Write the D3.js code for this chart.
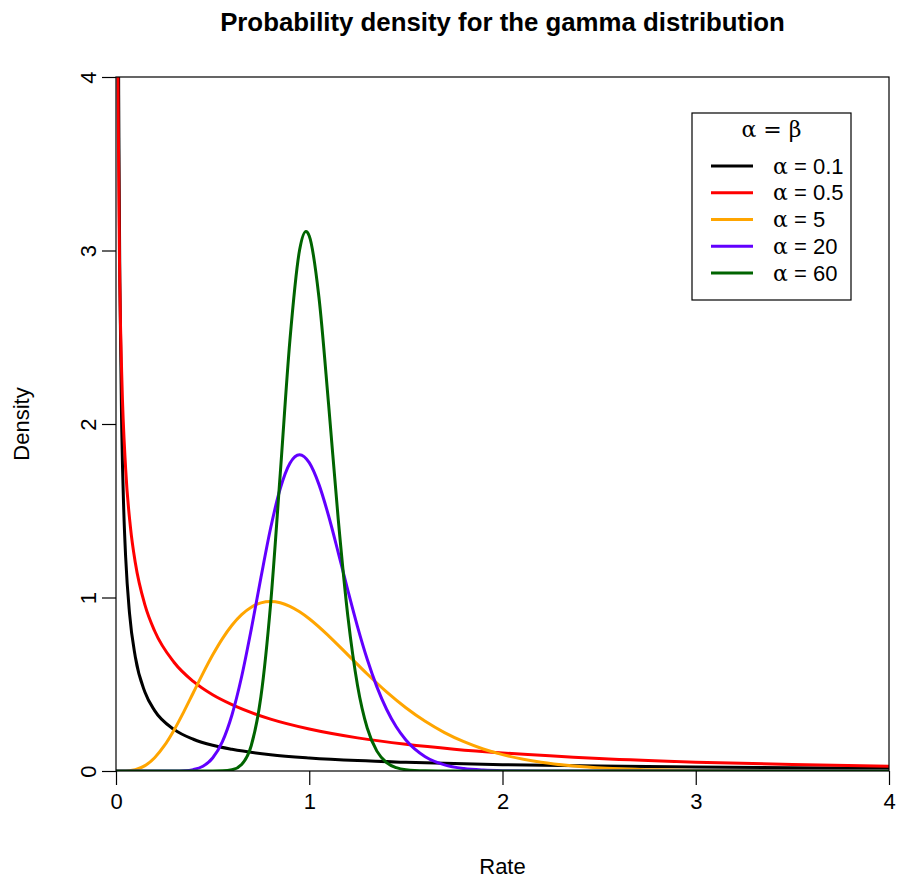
<!DOCTYPE html>
<html>
<head>
<meta charset="utf-8">
<script src="https://cdn.jsdelivr.net/npm/d3@7"></script>
<style>
  html, body { margin: 0; padding: 0; background: #fff; }
  svg { display: block; font-family: "Liberation Sans", Arial, sans-serif; }
</style>
</head>
<body>
<svg id="chart" width="901" height="882"></svg>
<script>
// ---- data ----
const alphas = ["0.1", "0.5", "5", "20", "60"];
const colors = ["#000000", "#FF0000", "#FFA500", "#6200FF", "#006400"];
const xTicks = [0, 1, 2, 3, 4];
const yTicks = [0, 1, 2, 3, 4];

const x01 = [0.005, 0.01, 0.015, 0.02, 0.03, 0.04, 0.05, 0.07, 0.1, 0.15, 0.2, 0.3, 0.4, 0.5, 0.6, 0.8, 1.0, 1.25, 1.5, 2.0, 2.5, 3.0, 3.5, 4.0];
const y01 = [9.83, 5.263, 3.653, 2.817, 1.954, 1.507, 1.232, 0.908, 0.657, 0.454, 0.348, 0.240, 0.183, 0.148, 0.125, 0.094, 0.0755, 0.060, 0.050, 0.0366, 0.0285, 0.023, 0.0191, 0.0161];

const x05 = [0.003, 0.005, 0.01, 0.02, 0.03, 0.05, 0.075, 0.1, 0.15, 0.2, 0.3, 0.4, 0.5, 0.6, 0.8, 1.0, 1.25, 1.5, 1.75, 2.0, 2.5, 3.0, 3.5, 4.0];
const y05 = [7.27, 5.63, 3.97, 2.793, 2.269, 1.740, 1.403, 1.200, 0.956, 0.807, 0.627, 0.516, 0.439, 0.382, 0.299, 0.242, 0.191, 0.154, 0.126, 0.104, 0.072, 0.051, 0.037, 0.027];

const x5 = [0, 0.05, 0.1, 0.15, 0.2, 0.25, 0.3, 0.35, 0.4, 0.45, 0.5, 0.55, 0.6, 0.65, 0.7, 0.75, 0.8, 0.85, 0.9, 0.95, 1.0, 1.1, 1.2, 1.3, 1.4, 1.5, 1.6, 1.7, 1.8, 1.9, 2.0, 2.2, 2.4, 2.6, 2.8, 3.0, 3.5, 4.0];
const y5 = [0, 0.0006, 0.0079, 0.0311, 0.0766, 0.1457, 0.2353, 0.3395, 0.4511, 0.5628, 0.668, 0.7617, 0.8402, 0.9012, 0.9441, 0.9689, 0.9768, 0.9696, 0.949, 0.9176, 0.8773, 0.7791, 0.6693, 0.5591, 0.4561, 0.3646, 0.2863, 0.2213, 0.1687, 0.127, 0.0946, 0.0509, 0.0265, 0.0135, 0.0067, 0.0032, 0.0005, 0.0001];

const x20 = [0, 0.25, 0.3, 0.35, 0.4, 0.45, 0.5, 0.55, 0.6, 0.65, 0.7, 0.75, 0.8, 0.85, 0.9, 0.95, 1.0, 1.05, 1.1, 1.15, 1.2, 1.25, 1.3, 1.35, 1.4, 1.45, 1.5, 1.6, 1.7, 1.8, 1.9, 2.0, 2.2, 2.5, 4.0];
const y20 = [0, 0, 0.0003, 0.0017, 0.008, 0.0274, 0.0747, 0.168, 0.323, 0.543, 0.817, 1.115, 1.399, 1.628, 1.774, 1.823, 1.777, 1.652, 1.471, 1.259, 1.04, 0.831, 0.644, 0.485, 0.356, 0.255, 0.179, 0.0825, 0.0353, 0.0142, 0.0054, 0.0019, 0.0002, 0, 0];

const x60 = [0, 0.5, 0.55, 0.6, 0.65, 0.7, 0.75, 0.8, 0.85, 0.9, 0.95, 0.983, 1.0, 1.05, 1.1, 1.15, 1.2, 1.25, 1.3, 1.35, 1.4, 1.45, 1.5, 1.6, 1.7, 4.0];
const y60 = [0, 0, 0.0008, 0.0067, 0.0372, 0.147, 0.429, 0.962, 1.714, 2.483, 3.003, 3.11, 3.084, 2.732, 2.115, 1.451, 0.89, 0.492, 0.248, 0.1145, 0.0487, 0.0192, 0.0071, 0.001, 0, 0];

const seriesX = [x01, x05, x5, x20, x60];
const seriesY = [y01, y05, y5, y20, y60];

// ---- layout ----
const svg = d3.select("#chart");
const L = 116, R = 889, T = 77, B = 771;
const x = d3.scaleLinear().domain([0, 4]).range([L, R]);
const y = d3.scaleLinear().domain([0, 4]).range([B, T]);

svg.append("defs").append("clipPath").attr("id", "clip")
  .append("rect").attr("x", L).attr("y", T).attr("width", R - L).attr("height", B - T);

const line = d3.line().x(d => x(d[0])).y(d => y(d[1])).curve(d3.curveMonotoneX);

const plot = svg.append("g").attr("clip-path", "url(#clip)");
seriesX.forEach((xs, i) => {
  const pts = xs.map((v, j) => [v, seriesY[i][j]]);
  plot.append("path").datum(pts)
    .attr("d", line)
    .attr("fill", "none")
    .attr("stroke", colors[i])
    .attr("stroke-width", 3)
    .attr("stroke-linejoin", "round")
    .attr("stroke-linecap", "round");
});

// box
svg.append("rect").attr("x", L).attr("y", T).attr("width", R - L).attr("height", B - T)
  .attr("fill", "none").attr("stroke", "#000").attr("stroke-width", 1.2);

// axes
const fs = 22;
const xAxis = d3.axisBottom(x).tickValues(xTicks).tickSize(14).tickPadding(8).tickFormat(d3.format("d"));
const gx = svg.append("g").attr("transform", `translate(0,${B})`).call(xAxis);
gx.select(".domain").remove();
gx.selectAll("line").attr("stroke", "#000").attr("stroke-width", 1.2);
gx.selectAll("text").attr("font-size", fs).attr("fill", "#000").attr("font-family", "Liberation Sans, Arial, sans-serif");

const yAxis = d3.axisLeft(y).tickValues(yTicks).tickSize(14).tickPadding(8).tickFormat(d3.format("d"));
const gy = svg.append("g").attr("transform", `translate(${L},0)`).call(yAxis);
gy.select(".domain").remove();
gy.selectAll("line").attr("stroke", "#000").attr("stroke-width", 1.2);
gy.selectAll("text").remove();
gy.selectAll(".tick").append("text")
  .attr("transform", "translate(-28,0) rotate(-90)")
  .attr("text-anchor", "middle")
  .attr("dy", "0.35em")
  .attr("font-size", fs)
  .attr("fill", "#000")
  .attr("font-family", "Liberation Sans, Arial, sans-serif")
  .text(d => d);

// titles
svg.append("text").attr("x", (L + R) / 2).attr("y", 31)
  .attr("text-anchor", "middle").attr("font-size", 25.8).attr("font-weight", "bold")
  .text("Probability density for the gamma distribution");
svg.append("text").attr("x", (L + R) / 2).attr("y", 874)
  .attr("text-anchor", "middle").attr("font-size", fs).text("Rate");
svg.append("text").attr("transform", `translate(29,${(T + B) / 2}) rotate(-90)`)
  .attr("text-anchor", "middle").attr("font-size", fs).text("Density");

// legend
const lg = svg.append("g");
lg.append("rect").attr("x", 692).attr("y", 113).attr("width", 159).attr("height", 187)
  .attr("fill", "#fff").attr("stroke", "#000").attr("stroke-width", 1.2);
lg.append("text").attr("x", 771.5).attr("y", 137).attr("text-anchor", "middle")
  .attr("font-size", fs).attr("font-family", "DejaVu Serif, Liberation Serif, serif").text("α = β");
const ly = d3.scaleLinear().domain([0, 4]).range([166, 273]);
alphas.forEach((a, i) => {
  const yy = ly(i);
  lg.append("line").attr("x1", 711).attr("x2", 753).attr("y1", yy).attr("y2", yy)
    .attr("stroke", colors[i]).attr("stroke-width", 3);
  const t = lg.append("text").attr("x", 773).attr("y", yy + 7.5).attr("font-size", fs);
  t.append("tspan").attr("font-family", "DejaVu Serif, Liberation Serif, serif").text("α");
  t.append("tspan").text(" = " + a);
});
</script>
</body>
</html>
